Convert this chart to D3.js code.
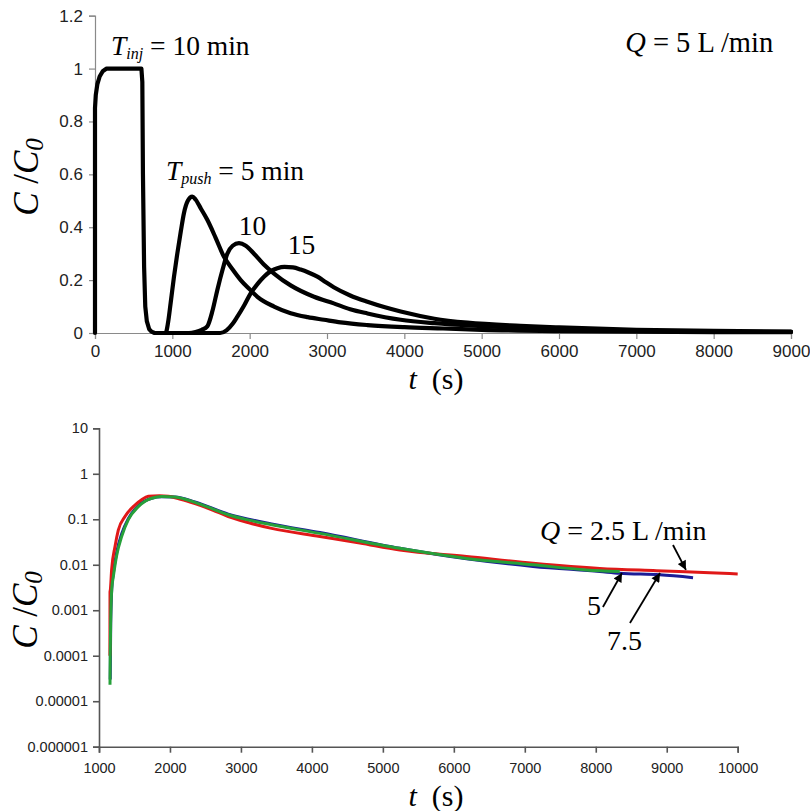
<!DOCTYPE html>
<html><head><meta charset="utf-8">
<script src="https://cdn.jsdelivr.net/npm/d3@7"></script>
<style>
html,body{margin:0;padding:0;background:#fff;}
svg{display:block;}
</style></head>
<body>
<svg id="chart" width="810" height="811"></svg>
<script>
// ---------- DATA: top panel (Q = 5 L/min), C/C0 vs t (s) ----------
const injT   = [0, 0, 10, 30, 60, 100, 150, 200, 600, 612, 620, 635, 650, 670, 700, 730, 770, 900];
const injC   = [0, 0.85, 0.9, 0.94, 0.97, 0.99, 1.0, 1.0, 1.0, 0.95, 0.6, 0.25, 0.1, 0.045, 0.015, 0.005, 0, 0];

const push5T  = [900, 913, 945, 978, 1020, 1064, 1110, 1150, 1200, 1258, 1300, 1370, 1452, 1560, 1668, 1780, 1884, 2000, 2100, 2315, 2530, 2750, 2961, 3177, 3523, 4000, 4500, 5000, 6000, 7000, 8000, 9000];
const push5C  = [0, 0, 0.04, 0.113, 0.21, 0.30, 0.385, 0.453, 0.50, 0.516, 0.505, 0.47, 0.428, 0.36, 0.288, 0.24, 0.20, 0.165, 0.137, 0.10, 0.075, 0.06, 0.05, 0.04, 0.03, 0.022, 0.017, 0.012, 0.007, 0.005, 0.0035, 0.003];

const push10T = [900, 1215, 1300, 1380, 1452, 1520, 1582, 1650, 1711, 1780, 1862, 1950, 2056, 2180, 2315, 2530, 2832, 3087, 3300, 3523, 3953, 4389, 5000, 5500, 6000, 7000, 8000, 9000];
const push10C = [0, 0, 0.004, 0.012, 0.025, 0.085, 0.163, 0.24, 0.30, 0.33, 0.34, 0.33, 0.30, 0.26, 0.225, 0.18, 0.137, 0.112, 0.09, 0.074, 0.05, 0.037, 0.026, 0.019, 0.014, 0.008, 0.005, 0.004];

const push15T = [900, 1618, 1700, 1780, 1841, 1930, 2013, 2100, 2185, 2280, 2358, 2450, 2560, 2660, 2760, 2876, 2980, 3087, 3300, 3523, 3750, 3953, 4389, 4816, 5500, 6000, 7000, 8000, 9000];
const push15C = [0, 0, 0.01, 0.035, 0.062, 0.105, 0.15, 0.185, 0.213, 0.235, 0.245, 0.25, 0.248, 0.24, 0.229, 0.213, 0.193, 0.173, 0.142, 0.118, 0.097, 0.081, 0.054, 0.039, 0.027, 0.021, 0.012, 0.008, 0.005];

const topXTicks = [0, 1000, 2000, 3000, 4000, 5000, 6000, 7000, 8000, 9000];
const topYTicks = [0, 0.2, 0.4, 0.6, 0.8, 1.0, 1.2];
const topYLabels = ["0", "0.2", "0.4", "0.6", "0.8", "1", "1.2"];

// ---------- DATA: bottom panel (log scale), three flow rates ----------
const q25T = [1154, 1155, 1160, 1178, 1225, 1272, 1366, 1507, 1600, 1695, 1850, 1976, 2150, 2352, 2600, 2821, 3100, 3432, 4113, 4676, 5239, 6179, 7117, 8056, 8854, 9606, 10000];
const q25C = [0.0001, 0.0025, 0.0028, 0.0078, 0.025, 0.058, 0.115, 0.206, 0.27, 0.32, 0.33, 0.32, 0.275, 0.22, 0.16, 0.115, 0.085, 0.063, 0.042, 0.03, 0.021, 0.0152, 0.0108, 0.0083, 0.0074, 0.0067, 0.0063];

const q5T = [1155, 1158, 1165, 1180, 1202, 1249, 1320, 1413, 1554, 1650, 1742, 1883, 2070, 2200, 2352, 2600, 2821, 3100, 3432, 4113, 5239, 6179, 7117, 7869, 8338];
const q5C = [0.000023, 0.0001, 0.0006, 0.003, 0.0055, 0.016, 0.042, 0.098, 0.19, 0.25, 0.29, 0.315, 0.31, 0.28, 0.235, 0.17, 0.126, 0.097, 0.076, 0.049, 0.023, 0.0138, 0.0100, 0.0077, 0.0071];

const q75T = [1158, 1165, 1180, 1205, 1250, 1320, 1413, 1554, 1742, 1883, 2070, 2352, 2821, 3432, 4113, 5239, 6179, 7117, 8056, 8338, 8901, 9371];
const q75C = [0.00003, 0.0005, 0.003, 0.007, 0.019, 0.048, 0.103, 0.2, 0.29, 0.312, 0.308, 0.24, 0.13, 0.079, 0.051, 0.023, 0.0135, 0.0092, 0.0071, 0.0065, 0.006, 0.0052];

const botXTicks = [1000, 2000, 3000, 4000, 5000, 6000, 7000, 8000, 9000, 10000];
const botYTicks = [10, 1, 0.1, 0.01, 0.001, 0.0001, 0.00001, 0.000001];
const botYLabels = ["10", "1", "0.1", "0.01", "0.001", "0.0001", "0.00001", "0.000001"];

// annotation arrows (data coordinates: [tailT, tailC, tipT, tipC])
const arrowQ25 = [9088, 0.0272, 9271, 0.0077];
const arrowQ5  = [8101, 0.00118, 8369, 0.0066];
const arrowQ75 = [8482, 0.000525, 8905, 0.0066];

// ---------- DRAW ----------
const svg = d3.select("#chart");
const serif = "'Liberation Serif', 'Times New Roman', serif";
const sans = "'Liberation Sans', Arial, sans-serif";

svg.append("defs").append("marker")
  .attr("id", "ah").attr("viewBox", "0 0 10 10").attr("refX", 10).attr("refY", 5)
  .attr("markerWidth", 11).attr("markerHeight", 9).attr("markerUnits", "userSpaceOnUse")
  .attr("orient", "auto")
  .append("path").attr("d", "M0,0 L10,5 L0,10 z").attr("fill", "#000");

// ---- top panel ----
const xTop = d3.scaleLinear().domain([0, 9000]).range([95, 791]);
const yTop = d3.scaleLinear().domain([0, 1.2]).range([333, 15.7]);

const gTop = svg.append("g");
const ax1 = gTop.append("g").attr("transform", `translate(0,${yTop(0)})`)
  .call(d3.axisBottom(xTop).tickValues(topXTicks).tickSize(6).tickPadding(6).tickFormat(d3.format("d")));
const ay1 = gTop.append("g").attr("transform", `translate(${xTop(0)},0)`)
  .call(d3.axisLeft(yTop).tickValues(topYTicks).tickSize(6).tickPadding(6).tickFormat((d, i) => topYLabels[i]));
[ax1, ay1].forEach(a => {
  a.select(".domain").attr("stroke", "#8a8a8a").attr("stroke-width", 1.2);
  a.selectAll(".tick line").attr("stroke", "#8a8a8a").attr("stroke-width", 1.2);
  a.selectAll(".tick text").attr("font-family", sans).attr("font-size", 17).attr("fill", "#222");
});

const lineTop = d3.line().x(d => xTop(d[0])).y(d => yTop(d[1]));
const zip = (a, b) => a.map((v, i) => [v, b[i]]);

gTop.append("path").datum(zip(injT, injC))
  .attr("d", lineTop.curve(d3.curveLinear))
  .attr("fill", "none").attr("stroke", "#000").attr("stroke-width", 4.2)
  .attr("stroke-linejoin", "round").attr("stroke-linecap", "round");
[[push5T, push5C], [push10T, push10C], [push15T, push15C]].forEach(([t, c]) => {
  gTop.append("path").datum(zip(t, c))
    .attr("d", d3.line().x(d => xTop(d[0])).y(d => yTop(d[1])).curve(d3.curveMonotoneX))
    .attr("fill", "none").attr("stroke", "#000").attr("stroke-width", 4.2)
    .attr("stroke-linejoin", "round").attr("stroke-linecap", "round");
});

// annotations
function label(g, x, y, parts, size) {
  const t = g.append("text").attr("x", x).attr("y", y)
    .attr("font-family", serif).attr("font-size", size).attr("fill", "#000");
  parts.forEach(p => {
    const s = t.append("tspan").text(p.t);
    if (p.i) s.attr("font-style", "italic");
    if (p.fs) s.attr("font-size", p.fs);
    if (p.dy) s.attr("dy", p.dy);
  });
  return t;
}
label(gTop, xTop(207), yTop(1.051), [
  {t: "T", i: 1}, {t: "inj", i: 1, fs: 16, dy: 4}, {t: " = 10 min", dy: -4}], 27.5);
label(gTop, xTop(917), yTop(0.578), [
  {t: "T", i: 1}, {t: "push", i: 1, fs: 16, dy: 4}, {t: " = 5 min", dy: -4}], 27.5);
label(gTop, xTop(1859), yTop(0.37), [{t: "10"}], 27.5);
label(gTop, xTop(2492), yTop(0.299), [{t: "15"}], 27.5);
label(gTop, xTop(6856), yTop(1.062), [{t: "Q", i: 1}, {t: " = 5 L /min"}], 28.5);

// axis titles
function yTitle(g, x, y) {
  const t = g.append("text").attr("transform", `translate(${x},${y}) rotate(-90)`)
    .attr("text-anchor", "middle").attr("font-family", serif).attr("font-size", 35).attr("fill", "#000");
  t.append("tspan").attr("font-style", "italic").text("C");
  t.append("tspan").text(" /");
  t.append("tspan").attr("font-style", "italic").text("C");
  t.append("tspan").attr("font-style", "italic").attr("font-size", 25).attr("dy", 5).text("0");
}
function xTitle(g, x, y) {
  const t = g.append("text").attr("x", x).attr("y", y)
    .attr("text-anchor", "middle").attr("font-family", serif).attr("font-size", 30).attr("fill", "#000");
  t.append("tspan").attr("font-style", "italic").text("t");
  t.append("tspan").text("\u2002(s)");
}
yTitle(gTop, 38, 177);
xTitle(gTop, 436, 389);

// ---- bottom panel ----
const xBot = d3.scaleLinear().domain([1000, 10000]).range([99, 737.7]);
const yBot = d3.scaleLog().domain([1e-6, 10]).range([746.7, 428.3]);

const gBot = svg.append("g");
const ax2 = gBot.append("g").attr("transform", `translate(0,${yBot(1e-6)})`)
  .call(d3.axisBottom(xBot).tickValues(botXTicks).tickSize(6).tickPadding(10).tickFormat(d3.format("d")));
const ay2 = gBot.append("g").attr("transform", `translate(${xBot(1000)},0)`)
  .call(d3.axisLeft(yBot).tickValues(botYTicks).tickSize(6).tickPadding(5).tickFormat((d, i) => botYLabels[i]));
[ax2, ay2].forEach(a => {
  a.select(".domain").attr("stroke", "#555").attr("stroke-width", 1.6);
  a.selectAll(".tick line").attr("stroke", "#555").attr("stroke-width", 1.6);
  a.selectAll(".tick text").attr("font-family", sans).attr("font-size", 14.5).attr("fill", "#222");
});

const lineBot = d3.line().x(d => xBot(d[0])).y(d => yBot(d[1])).curve(d3.curveMonotoneX);
[[q75T, q75C, "#1c1c96"], [q25T, q25C, "#e01818"], [q5T, q5C, "#26a03a"]].forEach(([t, c, col]) => {
  gBot.append("path").datum(zip(t, c)).attr("d", lineBot)
    .attr("fill", "none").attr("stroke", col).attr("stroke-width", 3)
    .attr("stroke-linejoin", "round").attr("stroke-linecap", "butt");
});

// arrows
[arrowQ25, arrowQ5, arrowQ75].forEach(a => {
  gBot.append("line")
    .attr("x1", xBot(a[0])).attr("y1", yBot(a[1]))
    .attr("x2", xBot(a[2])).attr("y2", yBot(a[3]))
    .attr("stroke", "#000").attr("stroke-width", 1.8).attr("marker-end", "url(#ah)");
});
label(gBot, xBot(7214), yBot(0.0351), [{t: "Q", i: 1}, {t: " = 2.5 L /min"}], 28);
label(gBot, xBot(7876), yBot(0.00079), [{t: "5"}], 28);
label(gBot, xBot(8158), yBot(0.000134), [{t: "7.5"}], 28);

yTitle(gBot, 37, 610);
xTitle(gBot, 436, 806);
</script>
</body></html>
